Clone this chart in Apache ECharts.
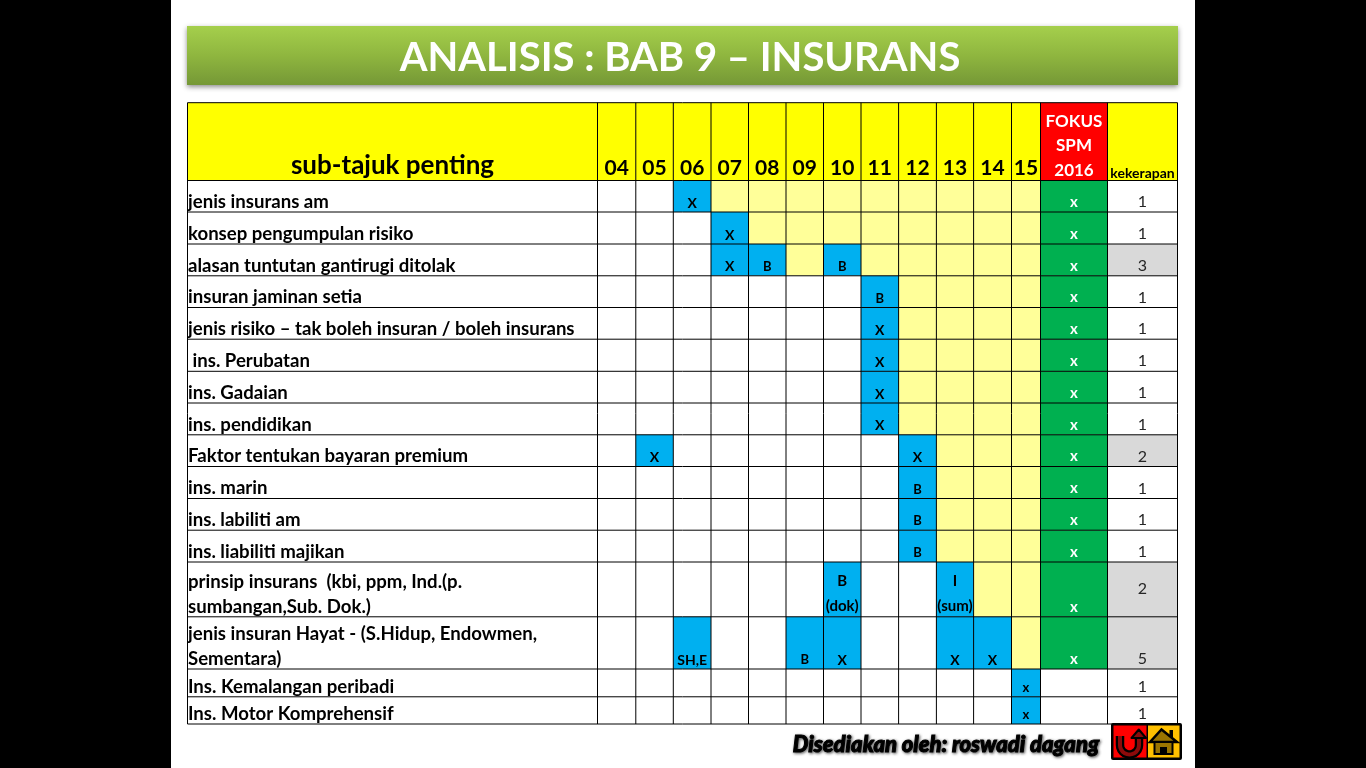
<!DOCTYPE html>
<html>
<head>
<meta charset="utf-8">
<style>html,body{margin:0;padding:0;background:#000}#c{width:1366px;height:768px}</style>
<script src="https://cdn.jsdelivr.net/npm/echarts@6/dist/echarts.min.js"></script>
</head>
<body>
<div id="c"></div>
<script>
const slideTitle = 'ANALISIS : BAB 9 \u2013 INSURANS';
const credit = 'Disediakan oleh: roswadi dagang';
const headTopic = 'sub-tajuk penting';
const headFocus = 'FOKUS\nSPM\n2016';
const headFreq = 'kekerapan';
const years = ['04','05','06','07','08','09','10','11','12','13','14','15'];
const topics = [
  'jenis insurans am',
  'konsep pengumpulan risiko',
  'alasan tuntutan gantirugi ditolak',
  'insuran jaminan setia',
  'jenis risiko \u2013 tak boleh insuran / boleh insurans',
  ' ins. Perubatan',
  'ins. Gadaian',
  'ins. pendidikan',
  'Faktor tentukan bayaran premium',
  'ins. marin',
  'ins. labiliti am',
  'ins. liabiliti majikan',
  'prinsip insurans  (kbi, ppm, Ind.(p.\nsumbangan,Sub. Dok.)',
  'jenis insuran Hayat - (S.Hidup, Endowmen,\nSementara)',
  'Ins. Kemalangan peribadi',
  'Ins. Motor Komprehensif'
];
// '' = empty, '~' = pale cell, anything else = question type asked that year
const yearMarks = [
  ['','','X','~','~','~','~','~','~','~','~','~'],
  ['','','','X','~','~','~','~','~','~','~','~'],
  ['','','','X','B','~','B','~','~','~','~','~'],
  ['','','','','','','','B','~','~','~','~'],
  ['','','','','','','','X','~','~','~','~'],
  ['','','','','','','','X','~','~','~','~'],
  ['','','','','','','','X','~','~','~','~'],
  ['','','','','','','','X','~','~','~','~'],
  ['','X','','','','','','','X','~','~','~'],
  ['','','','','','','','','B','~','~','~'],
  ['','','','','','','','','B','~','~','~'],
  ['','','','','','','','','B','~','~','~'],
  ['','','','','','','B\n(dok)','','','I\n(sum)','~','~'],
  ['','','SH,E','','','B','X','','','X','X','~'],
  ['','','','','','','','','','','','x'],
  ['','','','','','','','','','','','x']
];
const focusMarks = ['x','x','x','x','x','x','x','x','x','x','x','x','x','x','',''];
const frequencies = [1,1,3,1,1,1,1,1,2,1,1,1,2,5,1,1];

// table layout (px-sized units for the value axes)
const colEdges = [0,410,448.3,485.8,523.5,561,598.5,636,673.5,711.1,748.9,786.1,824,853,920,990];
const rowEdges = [0,77.8,109.3,141.3,173.1,204.8,236.5,268.6,300.3,332.1,363.8,395.8,427.5,459.3,514.1,566.3,594.1,621.3];
const FONT = 'Lato, sans-serif';

function cellItems() {
  const out = [];
  out.push({c:0,r:0,fill:'#ffff00',text:headTopic,font:'bold 26px '+FONT,color:'#000',align:'center',dy:-2});
  years.forEach((y,i)=>out.push({c:i+1,r:0,fill:'#ffff00',text:y,font:'bold 21px '+FONT,color:'#000',align:'center',dy:-2}));
  out.push({c:13,r:0,fill:'#ff0000',text:headFocus,font:'bold 17px '+FONT,color:'#fff',align:'center',dy:2,lh:24.5});
  out.push({c:14,r:0,fill:'#ffff00',text:headFreq,font:'bold 14px '+FONT,color:'#000',align:'center',dy:-0.5});
  topics.forEach((t,i)=>{
    const r=i+1;
    out.push({c:0,r,fill:'#fff',text:t,font:'bold 18.6px '+FONT,color:'#000',align:'left',dy:2,lh:24.5});
    yearMarks[i].forEach((m,j)=>{
      const fill = m==='' ? '#fff' : m==='~' ? '#ffff99' : '#00b0f0';
      const two = m.indexOf('\n')>=0;
      const size = two ? 15 : (m==='x'||m==='B'||m==='I') ? 13 : 14;
      out.push({c:j+1,r,fill,text:(m==='~')?'':m,font:'bold '+size+'px '+FONT,color:'#000',align:'center',dy:two?2:-1,lh:two?25:16});
    });
    out.push({c:13,r,fill:focusMarks[i]?'#00b050':'#fff',text:focusMarks[i],font:'bold 15px '+FONT,color:'#fff',align:'center',dy:-2,lh:16});
    const f=frequencies[i];
    out.push({c:14,r,fill:f>1?'#d9d9d9':'#fff',text:String(f),font:'16px '+FONT,color:'#262626',align:'center',dy:i===12?-20:-2,lh:16});
  });
  return out;
}
const items = cellItems();

function renderCell(params, api) {
  const it = items[api.value(0)];
  const p0 = api.coord([colEdges[it.c],rowEdges[it.r]]);
  const p1 = api.coord([colEdges[it.c+1],rowEdges[it.r+1]]);
  const children = [{type:'rect',silent:true,shape:{x:p0[0],y:p0[1],width:p1[0]-p0[0],height:p1[1]-p0[1]},style:{fill:it.fill}}];
  if (it.text) {
    children.push({type:'text',silent:true,style:{
      text:it.text,font:it.font,fill:it.color,
      x:it.align==='left'?p0[0]+0.5:(p0[0]+p1[0])/2,
      y:p1[1]+it.dy,
      align:it.align,verticalAlign:'bottom',lineHeight:it.lh
    }});
  }
  return {type:'group',children};
}
function renderLine(params, api) {
  const a = api.coord([api.value(0),api.value(1)]);
  const b = api.coord([api.value(2),api.value(3)]);
  return {type:'line',silent:true,shape:{x1:a[0],y1:a[1],x2:b[0],y2:b[1]},style:{stroke:'#000',lineWidth:1}};
}
const W = colEdges[colEdges.length-1], H = rowEdges[rowEdges.length-1];
const lineData = [];
colEdges.forEach(x=>lineData.push([x,0,x,H]));
rowEdges.forEach(y=>lineData.push([0,y,W,y]));

const chart = echarts.init(document.getElementById('c'),null,{renderer:'canvas'});
const G = echarts.graphic;
// return-arrow icon outline: left stem, half circle, right stem
const uPoints = [[1120,736]];
for (let k=0;k<=12;k++){const t=Math.PI*(1-k/12);uPoints.push([1129.5+9.5*Math.cos(t),745+9.5*Math.sin(t)]);}
uPoints.push([1139,735]);
chart.setOption({
  animation:false,
  backgroundColor:'#000',
  title:{text:slideTitle,left:675,top:28,textAlign:'center',z:10,
    textStyle:{color:'#fff',fontFamily:FONT,fontWeight:'bold',fontSize:40,lineHeight:50}},
  grid:{left:187.5,top:102.7,width:W,height:H,containLabel:false},
  xAxis:{type:'value',min:0,max:W,show:false},
  yAxis:{type:'value',min:0,max:H,inverse:true,show:false},
  graphic:[
    {type:'rect',z:-10,silent:true,shape:{x:171,y:0,width:1024,height:768},style:{fill:'#fff'}},
    {type:'rect',z:-5,silent:true,shape:{x:187,y:26,width:991,height:59},
      style:{fill:new G.LinearGradient(0,0,0,1,[{offset:0,color:'#a5cf4c'},{offset:.5,color:'#8fb63f'},{offset:1,color:'#759836'}]),
        shadowBlur:5,shadowColor:'rgba(0,0,0,.45)',shadowOffsetY:2}},
    {type:'text',z:5,silent:true,style:{text:credit,x:946,y:745,align:'center',verticalAlign:'middle',
      font:'italic 900 22px '+FONT,fill:'#000',stroke:'#000',lineWidth:1,textShadowColor:'rgba(0,0,0,.6)',textShadowBlur:3,textShadowOffsetX:1,textShadowOffsetY:1}},
    {type:'rect',z:5,silent:true,shape:{x:1111,y:723,width:71,height:37,r:2},style:{fill:'#000'}},
    {type:'rect',z:6,silent:true,shape:{x:1113.5,y:725.5,width:33,height:32},style:{fill:'#ff0000'}},
    {type:'rect',z:6,silent:true,shape:{x:1148,y:725.5,width:31.5,height:32},style:{fill:'#ffc000'}},
    // return arrow
    {type:'polyline',z:7,silent:true,shape:{points:uPoints},style:{fill:null,stroke:'#000',lineWidth:8.5}},
    {type:'polyline',z:8,silent:true,shape:{points:uPoints},style:{fill:null,stroke:'#8b0a0a',lineWidth:4}},
    {type:'polygon',z:8,silent:true,shape:{points:[[1131.5,738],[1138.8,729.5],[1146,738]]},style:{fill:'#8b0a0a',stroke:'#000',lineWidth:2,lineJoin:'round'}},
    // house
    {type:'rect',z:7,silent:true,shape:{x:1169.5,y:730,width:3.5,height:9},style:{fill:'#000'}},
    {type:'polygon',z:7,silent:true,shape:{points:[[1150,742],[1161.5,729.5],[1177,742]]},style:{fill:'#9a7400',stroke:'#000',lineWidth:2.5}},
    {type:'rect',z:7,silent:true,shape:{x:1154.5,y:742,width:18,height:12},style:{fill:'#9a7400',stroke:'#000',lineWidth:2}},
    {type:'rect',z:8,silent:true,shape:{x:1160,y:747,width:7,height:7},style:{fill:'#000'}}
  ],
  series:[
    {type:'custom',name:'cells',coordinateSystem:'cartesian2d',clip:false,silent:true,z:2,
      encode:{x:1,y:2},renderItem:renderCell,
      data:items.map((it,i)=>[i,colEdges[it.c],rowEdges[it.r]])},
    {type:'custom',name:'rules',coordinateSystem:'cartesian2d',clip:false,silent:true,z:3,
      encode:{x:0,y:1},renderItem:renderLine,data:lineData}
  ]
});
</script>
</body>
</html>
